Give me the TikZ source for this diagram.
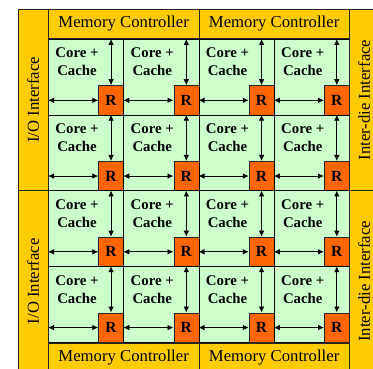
\documentclass[tikz,border=0pt]{standalone}
\usepackage{fontspec}
\setmainfont{Liberation Serif}
\usetikzlibrary{arrows.meta}
\definecolor{stripyellow}{RGB}{255,204,0}
\definecolor{cellgreen}{RGB}{204,255,204}
\definecolor{routerorange}{RGB}{255,102,0}
\tikzset{
  strip/.style={draw=black!85, line width=0.8pt, fill=stripyellow, inner sep=0pt,
    font=\fontsize{16.7}{20}\selectfont},
  cell/.style={draw=black, line width=0.6pt, fill=cellgreen, inner sep=0pt,
    minimum width=75.25pt, minimum height=75.75pt, anchor=north west},
  core/.style={align=center, inner sep=0pt, font=\bfseries\fontsize{14.8}{18}\selectfont},
  router/.style={draw=black!85, line width=0.6pt, fill=routerorange, inner sep=0pt,
    minimum width=25pt, minimum height=29.5pt, anchor=south east,
    font=\bfseries\fontsize{15.5}{18}\selectfont},
  link/.style={{Latex[length=6pt,width=5.5pt]}-{Latex[length=6pt,width=5.5pt]}, line width=0.8pt},
}
\begin{document}
\begin{tikzpicture}[x=1pt,y=-1pt]
\clip (0,0) rectangle (373,369);
% mesh of tiles
\foreach \i in {0,...,3}
  \foreach \j in {0,...,3} {
    \node[cell] (c\i\j) at ({48+75.25*\i},{39+75.75*\j}) {};
    \node[core] (k\i\j) at ([xshift=29pt,yshift=-23pt]c\i\j.north west) {Core +\\Cache};
    \node[router] (r\i\j) at (c\i\j.south east) {R};
    \draw[link] (c\i\j.north -| r\i\j) -- (r\i\j.north);
    \draw[link] (c\i\j.west |- r\i\j) -- (r\i\j.west);
  }
% memory controllers
\node[strip, minimum width=150.5pt, minimum height=29.5pt, anchor=south west] (mc1) at (c00.north west) {Memory Controller};
\node[strip, minimum width=150.5pt, minimum height=29.5pt, anchor=south west] (mc2) at (c20.north west) {Memory Controller};
\node[strip, minimum width=150.5pt, minimum height=30pt, anchor=north west] (mc3) at (c03.south west) {Memory Controller};
\node[strip, minimum width=150.5pt, minimum height=30pt, anchor=north west] (mc4) at (c23.south west) {Memory Controller};
% side interfaces
\node[strip, rotate=90, minimum width=181pt, minimum height=30pt] (io1) at (33,100) {I/O Interface};
\node[strip, rotate=90, minimum width=181.5pt, minimum height=30pt] (io2) at (33,281.25) {I/O Interface};
\node[strip, rotate=90, minimum width=181pt, minimum height=30pt] (id1) at (364,100) {Inter-die Interface};
\node[strip, rotate=90, minimum width=181.5pt, minimum height=30pt] (id2) at (364,281.25) {Inter-die Interface};
\end{tikzpicture}
\end{document}
